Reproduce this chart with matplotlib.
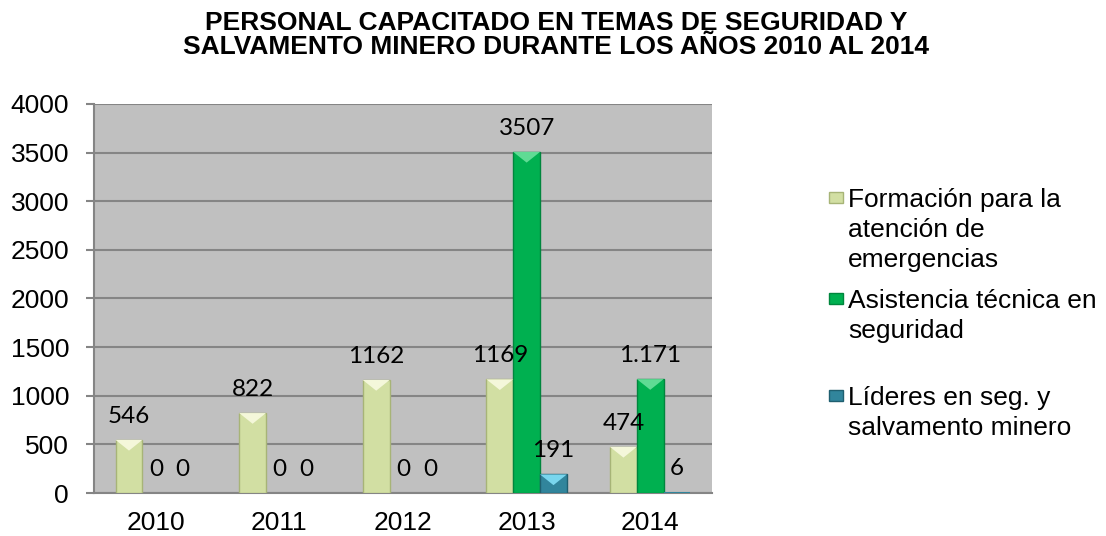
import matplotlib.pyplot as plt
from matplotlib.patches import Polygon, Rectangle
import numpy as np

# Datos del grafico
anios = ['2010', '2011', '2012', '2013', '2014']
formacion = [546, 822, 1162, 1169, 474]
asistencia = [0, 0, 0, 3507, 1171]
lideres = [0, 0, 0, 191, 6]
etiquetas_formacion = ['546', '822', '1162', '1169', '474']
etiquetas_asistencia = ['0', '0', '0', '3507', '1.171']
etiquetas_lideres = ['0', '0', '0', '191', '6']
series = ['Formación para la\natención de\nemergencias',
          'Asistencia técnica en\nseguridad',
          'Líderes en seg. y\nsalvamento minero']

plt.rcParams['font.family'] = ['Liberation Sans', 'DejaVu Sans']

fig = plt.figure(figsize=(11.06, 5.36), dpi=100)
ax = fig.add_axes([0.085, 0.0802, 0.5588, 0.7258])
ax.set_facecolor('#C0C0C0')

x = np.arange(len(anios))
w = 0.217
colores = ['#D2DFA3', '#00B050', '#31859C']
bordes = ['#A7B477', '#00863D', '#1F5F70']
brillos = ['#F4F7DA', '#5FDB94', '#79D6EE']
datos = [formacion, asistencia, lideres]
etiquetas = [etiquetas_formacion, etiquetas_asistencia, etiquetas_lideres]

for i, (vals, c, b, br, et) in enumerate(zip(datos, colores, bordes, brillos, etiquetas)):
    barras = ax.bar(x + (i - 1) * w, vals, w, color=c, edgecolor=b, linewidth=1, zorder=3)
    for rect, e in zip(barras, et):
        x0 = rect.get_x()
        x1 = x0 + rect.get_width()
        top = rect.get_height()
        d = min(top, 110)
        if top > 20:
            # brillo superior tipo bisel
            ax.add_patch(Polygon([[x0, top], [x1, top], [(x0 + x1) / 2, top - d]],
                                 closed=True, facecolor=br, edgecolor='none', zorder=4))
        else:
            rect.set_linewidth(0)
        ax.annotate(e, (x0 + rect.get_width() / 2, top), xytext=(0, 17),
                    textcoords='offset points', ha='center', va='center',
                    fontsize=17.5, family=['Lato', 'DejaVu Sans'], zorder=5)

ax.set_xlim(-0.5, 4.5)
ax.set_ylim(0, 4000)
ax.set_yticks(range(0, 4001, 500))
ax.set_xticks(x)
ax.set_xticklabels(anios)
ax.yaxis.grid(True, color='#858585', linewidth=1.5, zorder=1)
ax.set_axisbelow(True)
for s in ['top', 'right']:
    ax.spines[s].set_visible(False)
ax.spines['left'].set_color('#858585')
ax.spines['left'].set_linewidth(1.5)
ax.spines['bottom'].set_color('#858585')
ax.spines['bottom'].set_linewidth(1.5)
ax.tick_params(axis='y', length=6, width=1.5, color='#858585', labelsize=19, pad=12)
ax.tick_params(axis='x', length=0, labelsize=19, pad=13)

fig.text(0.503, 0.935, 'PERSONAL CAPACITADO EN TEMAS DE SEGURIDAD Y\nSALVAMENTO MINERO DURANTE LOS AÑOS 2010 AL 2014',
         ha='center', va='center', fontsize=19, fontweight='bold', linespacing=1.0)

# leyenda manual (linea base de la primera linea en pixeles)
W, H = 1106.0, 536.0
bases = [207, 308, 405]
for lab, c, b, y in zip(series, colores, bordes, bases):
    fig.patches.append(Rectangle((829 / W, 1 - (y - 4) / H), 14 / W, 11 / H,
                                 transform=fig.transFigure, facecolor=c, edgecolor=b,
                                 linewidth=1, figure=fig))
    fig.text(848 / W, 1 - (y - 19) / H, lab, ha='left', va='top', fontsize=19,
             linespacing=1.32)

fig.savefig('out.png', dpi=100)
